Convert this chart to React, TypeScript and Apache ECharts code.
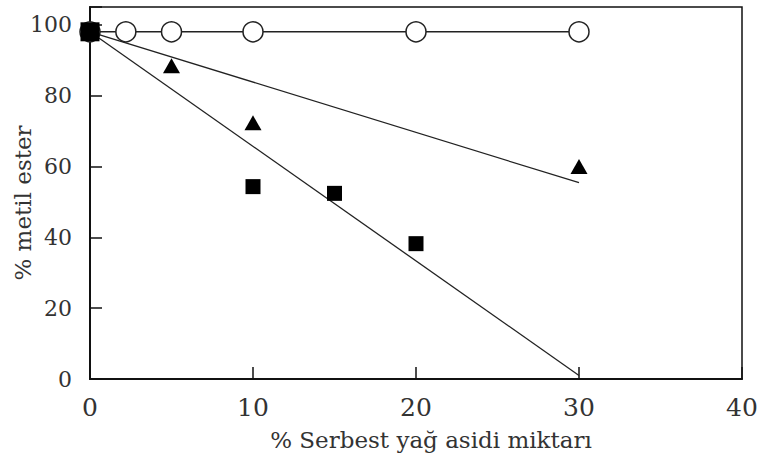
import React, { useEffect, useRef } from "react";
import * as echarts from "echarts";

const xTicks = [0, 10, 20, 30, 40];
const yTicks = [0, 20, 40, 60, 80, 100];

// open circles
const circleX = [0, 2.2, 5, 10, 20, 30];
const circleY = [98, 98, 98, 98, 98, 98];
// filled triangles
const triX = [0, 5, 10, 30];
const triY = [98, 88.4, 72.3, 60];
// filled squares
const sqX = [0, 10, 15, 20];
const sqY = [98, 54.3, 52.4, 38.2];
// fitted lines (endpoints)
const triFitX = [0, 30];
const triFitY = [98, 55.4];
const sqFitX = [0, 30];
const sqFitY = [98, 1];

const zip = (a: number[], b: number[]) => a.map((v, i) => [v, b[i]]);

export default function App() {
  const ref = useRef<HTMLDivElement>(null);
  useEffect(() => {
    if (!ref.current) return;
    const chart = echarts.init(ref.current, null, { renderer: "svg" });
    const font = "DejaVu Serif";
    chart.setOption({
      animation: false,
      backgroundColor: "#ffffff",
      grid: {
        left: 90,
        right: 18,
        top: 7,
        bottom: 82,
        containLabel: false,
        outerBoundsMode: "none",
        show: true,
        borderColor: "#111",
        borderWidth: 1.5,
        backgroundColor: "transparent",
      },
      xAxis: {
        type: "value",
        min: xTicks[0],
        max: xTicks[xTicks.length - 1],
        interval: 10,
        name: "% Serbest yağ asidi miktarı",
        nameLocation: "middle",
        nameGap: 49,
        nameMoveOverlap: false,
        nameTextStyle: { fontFamily: font, fontSize: 23, color: "#333", padding: [0, 0, 0, 30] },
        axisLine: { show: true, onZero: false, lineStyle: { color: "#111", width: 2 } },
        axisTick: { show: true, inside: true, length: 12, lineStyle: { color: "#111", width: 1.5 } },
        axisLabel: { fontFamily: font, fontSize: 25, color: "#333", margin: 16 },
        splitLine: { show: false },
      },
      yAxis: {
        type: "value",
        min: 0,
        max: 105,
        interval: 20,
        name: "% metil ester",
        nameLocation: "middle",
        nameGap: 56,
        nameMoveOverlap: false,
        nameTextStyle: { fontFamily: font, fontSize: 23, color: "#333", padding: [0, 20, 0, 0] },
        axisLine: { show: true, onZero: false, lineStyle: { color: "#111", width: 2 } },
        axisTick: { show: true, inside: true, length: 12, lineStyle: { color: "#111", width: 1.5 } },
        axisLabel: {
          fontFamily: font,
          fontSize: 22,
          color: "#333",
          margin: 18,
          padding: [8, 0, 0, 0],
          formatter: (v: number) => (yTicks.includes(v) ? String(v) : ""),
        },
        splitLine: { show: false },
      },
      series: [
        {
          type: "line",
          data: zip(triFitX, triFitY),
          symbol: "none",
          lineStyle: { color: "#222", width: 1.3 },
          z: 2,
        },
        {
          type: "line",
          data: zip(sqFitX, sqFitY),
          symbol: "none",
          lineStyle: { color: "#222", width: 1.3 },
          z: 2,
        },
        {
          type: "line",
          data: zip(circleX, circleY),
          symbol: "circle",
          symbolSize: 20,
          lineStyle: { color: "#222", width: 1.5 },
          itemStyle: { color: "#fff", borderColor: "#222", borderWidth: 1.5, opacity: 1 },
          z: 3,
        },
        {
          type: "scatter",
          data: zip(triX, triY),
          symbol: "triangle",
          symbolSize: [17, 15],
          itemStyle: { color: "#000", opacity: 1 },
          z: 4,
        },
        {
          type: "scatter",
          data: zip(sqX, sqY),
          symbol: "rect",
          symbolSize: (v: number[]) => (v[0] === 0 ? 19 : 15),
          itemStyle: { color: "#000", opacity: 1 },
          z: 5,
        },
      ],
    });
    return () => chart.dispose();
  }, []);
  return <div ref={ref} style={{ width: 760, height: 461, position: "absolute", left: 0, top: 0 }} />;
}
